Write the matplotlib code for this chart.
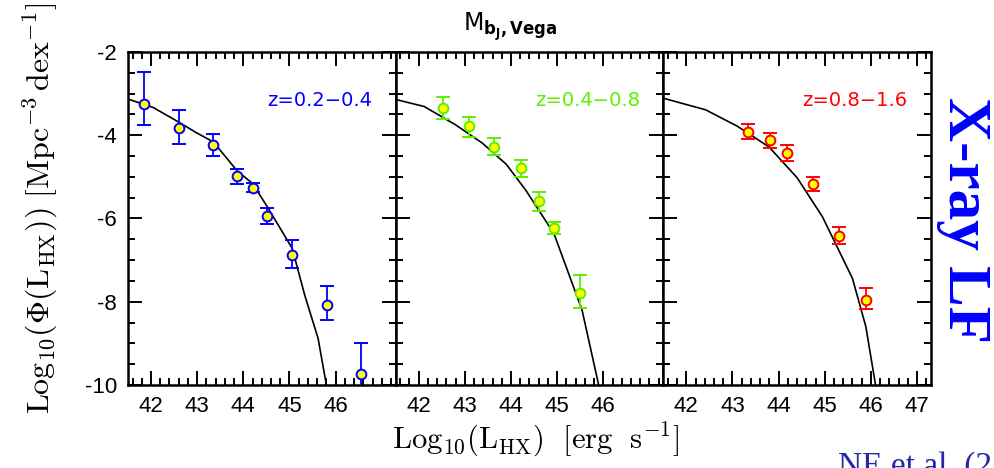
import matplotlib
matplotlib.use('Agg')
import matplotlib.pyplot as plt
from matplotlib.ticker import MultipleLocator, FixedLocator, NullFormatter

plt.rcParams['font.family'] = ['Liberation Sans', 'DejaVu Sans']
plt.rcParams['axes.unicode_minus'] = False
plt.rcParams['mathtext.fontset'] = 'cm'

# redshift bins
z_labels = ['z=0.2\u22120.4', 'z=0.4\u22120.8', 'z=0.8\u22121.6']
z_colors = ['#0000ff', '#5cf000', '#ff0000']

# binned luminosity function: log L, log Phi, lower / upper error
lx_1 = [41.85, 42.60, 43.35, 43.87, 44.20, 44.52, 45.06, 45.81, 46.54]
phi_1 = [-3.25, -3.83, -4.24, -4.98, -5.26, -5.94, -6.88, -8.08, -9.74]
elo_1 = [0.50, 0.38, 0.26, 0.19, 0.10, 0.19, 0.30, 0.36, 0.50]
ehi_1 = [0.77, 0.44, 0.27, 0.18, 0.12, 0.19, 0.36, 0.46, 0.74]

lx_2 = [42.53, 43.08, 43.64, 44.22, 44.61, 44.94, 45.50]
phi_2 = [-3.35, -3.78, -4.28, -4.79, -5.58, -6.24, -7.80]
elo_2 = [0.26, 0.26, 0.20, 0.21, 0.23, 0.14, 0.36]
ehi_2 = [0.26, 0.23, 0.21, 0.19, 0.21, 0.15, 0.44]

lx_3 = [43.33, 43.82, 44.18, 44.75, 45.31, 45.89]
phi_3 = [-3.92, -4.12, -4.43, -5.17, -6.41, -7.96]
elo_3 = [0.17, 0.19, 0.19, 0.16, 0.21, 0.22]
ehi_3 = [0.18, 0.18, 0.19, 0.17, 0.21, 0.29]

# model curves
mx_1 = [41.5, 42.04, 42.5, 43.0, 43.35, 43.87, 44.20, 44.52, 45.06, 45.33, 45.62, 45.80]
my_1 = [-3.13, -3.33, -3.62, -3.95, -4.16, -4.86, -5.16, -5.72, -6.72, -7.84, -8.88, -10.0]

mx_2 = [41.5, 42.12, 42.80, 43.38, 43.90, 44.32, 44.93, 45.54, 45.90]
my_2 = [-3.14, -3.31, -3.75, -4.19, -4.70, -5.32, -6.36, -8.20, -10.0]

mx_3 = [41.5, 42.42, 43.10, 43.79, 44.40, 44.95, 45.60, 45.89, 46.10]
my_3 = [-3.11, -3.39, -3.78, -4.28, -5.02, -5.96, -7.44, -8.60, -10.0]

panels = [
    (lx_1, phi_1, elo_1, ehi_1, mx_1, my_1),
    (lx_2, phi_2, elo_2, ehi_2, mx_2, my_2),
    (lx_3, phi_3, elo_3, ehi_3, mx_3, my_3),
]
xtick_sets = [[42, 43, 44, 45, 46], [42, 43, 44, 45, 46], [42, 43, 44, 45, 46, 47]]

fig = plt.figure(figsize=(9.95, 4.68), dpi=100)
left, bottom, width, height = 0.1286, 0.1774, 0.2690, 0.7115

for i, (lx, phi, elo, ehi, mx, my) in enumerate(panels):
    ax = fig.add_axes([left + i * width, bottom, width, height])
    col = z_colors[i]
    ax.plot(mx, my, color='black', lw=1.2, zorder=2)
    ax.errorbar(lx, phi, yerr=[elo, ehi], fmt='o', color=col, ecolor=col,
                mfc='#ffff00', mec=col, ms=7, mew=1.4, elinewidth=1.3,
                capsize=5, capthick=1.3, zorder=3, clip_on=True)
    ax.text(0.912, 0.853, z_labels[i], color=col, fontsize=14,
            family='DejaVu Sans', ha='right', va='center', transform=ax.transAxes)

    ax.set_xlim(41.5, 47.3)
    ax.set_ylim(-10, -2)
    ax.xaxis.set_major_locator(FixedLocator(xtick_sets[i]))
    ax.xaxis.set_minor_locator(MultipleLocator(0.2))
    ax.yaxis.set_major_locator(MultipleLocator(2))
    ax.yaxis.set_minor_locator(MultipleLocator(0.5))
    ax.tick_params(which='both', direction='in', top=True, right=True,
                   width=1.4, labelsize=16)
    ax.tick_params(which='major', length=10, pad=8)
    ax.tick_params(which='minor', length=5)
    if i > 0:
        ax.yaxis.set_major_formatter(NullFormatter())
    for s in ax.spines.values():
        s.set_linewidth(1.8)

fig.text(510 / 995, 1 - 27 / 468, r'$\mathrm{M}_{\mathbf{b_J,Vega}}$',
         fontsize=17, ha='center', va='center', math_fontfamily='dejavusans')

fig.text(536 / 995, 1 - 440 / 468,
         r'$\mathrm{Log_{10}(L_{HX})\ \ [erg\ \ s^{-1}]}$',
         fontsize=22, ha='center', va='center')

fig.text(40 / 995, 1 - 414 / 468,
         r'$\mathrm{Log_{10}(\Phi(L_{HX}))\ [Mpc^{-3}\,dex^{-1}]}$',
         fontsize=23, rotation=90, ha='center', va='bottom')

fig.text(964 / 995, 1 - 220 / 468, 'X-ray LF', color='#0000ff',
         family='Liberation Serif', fontweight='bold', fontsize=44,
         rotation=-90, ha='center', va='center')

fig.text(838 / 995, 1 - 451 / 468, 'NE et al. (2', color='#2626a6',
         family='Liberation Serif', fontsize=24, ha='left', va='top')

fig.savefig('out.png', dpi=100)
